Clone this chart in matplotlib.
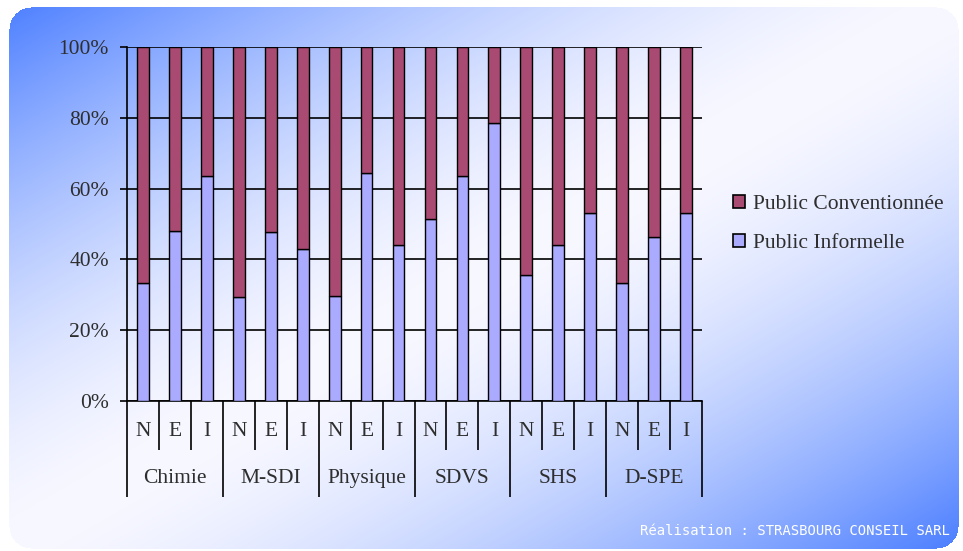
import numpy as np
import matplotlib
matplotlib.use("Agg")
import matplotlib.pyplot as plt
from matplotlib.patches import Patch
import matplotlib.transforms as mtransforms

# ---- data -------------------------------------------------------------
groups = ["Chimie", "M-SDI", "Physique", "SDVS", "SHS", "D-SPE"]
subgroups = ["N", "E", "I"]
informelle = [33.2, 48.0, 63.6, 29.3, 47.8, 42.8, 29.8, 64.3, 44.0,
              51.3, 63.6, 78.4, 35.6, 44.0, 53.0, 33.2, 46.2, 53.0]
conventionnee = [66.8, 52.0, 36.4, 70.7, 52.2, 57.2, 70.2, 35.7, 56.0,
                 48.7, 36.4, 21.6, 64.4, 56.0, 47.0, 66.8, 53.8, 47.0]
yticks = [0, 20, 40, 60, 80, 100]
ytick_labels = ["0%", "20%", "40%", "60%", "80%", "100%"]
series_names = ["Public Conventionnée", "Public Informelle"]
credit = "Réalisation : STRASBOURG CONSEIL SARL"

COL_CONV = "#a94a72"
COL_INF = "#aaabff"
SERIF = "Liberation Serif"
FS = 15.5
TXT = "#2e2e2e"

W, H = 963, 551
fig = plt.figure(figsize=(W / 100, H / 100), dpi=100)
fig.patch.set_facecolor("white")

# ---- diagonal gradient card with rounded corners ---------------------
yy, xx = np.mgrid[0:H, 0:W].astype(float)
s = (xx / W + yy / H) / 2.0
d = np.abs(2 * s - 1)
f = d ** 1.6
blue = np.array([72, 124, 255]) / 255.0
white = np.array([248, 248, 255]) / 255.0
img = white[None, None, :] + (blue - white)[None, None, :] * f[..., None]

x0, y0, x1, y1, r = 9, 7, 958, 548, 22
inside = (xx >= x0) & (xx <= x1) & (yy >= y0) & (yy <= y1)
for cx, cy in [(x0 + r, y0 + r), (x1 - r, y0 + r), (x0 + r, y1 - r), (x1 - r, y1 - r)]:
    corner = (np.abs(xx - cx) <= r) & (np.abs(yy - cy) <= r) & \
             (((xx < x0 + r) | (xx > x1 - r)) & ((yy < y0 + r) | (yy > y1 - r)))
    inside &= ~(corner & ((xx - cx) ** 2 + (yy - cy) ** 2 > r ** 2))
alpha = inside.astype(float)
rgba = np.dstack([img, alpha])

bg = fig.add_axes([0, 0, 1, 1], zorder=-10)
bg.imshow(rgba, extent=[0, W, H, 0], interpolation="bilinear", aspect="auto")
bg.set_xlim(0, W)
bg.set_ylim(H, 0)
bg.axis("off")

# ---- main axes ---------------------------------------------------------
left, right, top, bottom = 127, 702, 47, 401
ax = fig.add_axes([left / W, 1 - bottom / H, (right - left) / W, (bottom - top) / H])
ax.set_facecolor("none")

n = len(informelle)
x = np.arange(n)
bw = 0.37
b_inf = ax.bar(x, informelle, bw, color=COL_INF, edgecolor="black", linewidth=1.0, zorder=3)
b_conv = ax.bar(x, conventionnee, bw, bottom=informelle, color=COL_CONV,
                edgecolor="black", linewidth=1.0, zorder=3)

ax.set_xlim(-0.5, n - 0.5)
ax.set_ylim(0, 100)
ax.set_yticks(yticks)
ax.set_yticklabels(ytick_labels, fontfamily=SERIF, fontsize=FS, color=TXT)
ax.tick_params(axis="y", length=5, width=1.2, pad=8, color="black")
ax.set_xticks([])
ax.grid(axis="y", color="black", linewidth=1.2, zorder=1)
ax.set_axisbelow(True)
for side in ["top", "right"]:
    ax.spines[side].set_visible(False)
for side in ["left", "bottom"]:
    ax.spines[side].set_linewidth(1.2)
    ax.spines[side].set_color("black")

# two-level category axis
trans = mtransforms.blended_transform_factory(ax.transData, ax.transAxes)
minor_depth = -0.138
major_depth = -0.271
for i in range(n):
    ax.text(x[i], -0.087, subgroups[i % 3], transform=trans, ha="center", va="center",
            fontfamily=SERIF, fontsize=FS, color=TXT)
for k in range(n + 1):
    xb = k - 0.5
    depth = major_depth if k % 3 == 0 else minor_depth
    ax.plot([xb, xb], [0, depth], transform=trans, color="black", linewidth=1.2,
            clip_on=False, solid_capstyle="butt")
for g, name in enumerate(groups):
    ax.text(3 * g + 1, -0.220, name, transform=trans, ha="center", va="center",
            fontfamily=SERIF, fontsize=FS, color=TXT)

# legend
handles = [Patch(facecolor=COL_CONV, edgecolor="black", linewidth=1.2),
           Patch(facecolor=COL_INF, edgecolor="black", linewidth=1.2)]
leg = fig.legend(handles, series_names, loc="center left",
                 bbox_to_anchor=(733 / W, 1 - 224 / H), frameon=False,
                 prop={"family": SERIF, "size": FS},
                 handlelength=0.55, handleheight=0.55, handletextpad=0.4,
                 labelspacing=0.9, borderpad=0, borderaxespad=0)
for t in leg.get_texts():
    t.set_color(TXT)

# credit line
fig.text(950 / W, 1 - 531 / H, credit, ha="right", va="center", color="white",
         fontfamily="DejaVu Sans Mono", fontsize=10)

fig.savefig("out.png", dpi=100)
